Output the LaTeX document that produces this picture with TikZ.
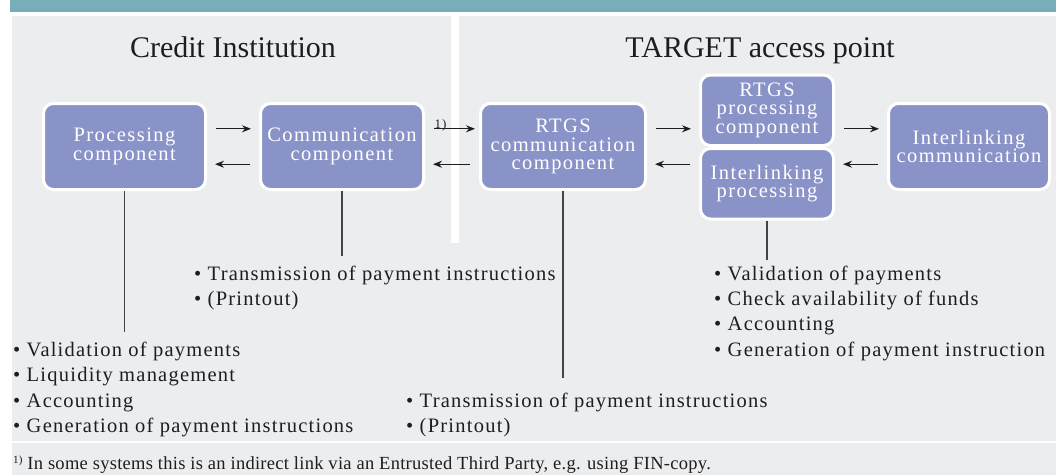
\documentclass[tikz,border=0pt]{standalone}
\usepackage{fontspec}
\setmainfont{Liberation Serif}
\newfontfamily\trackfont[LetterSpace=7]{Liberation Serif}
\newfontfamily\listfont[LetterSpace=6]{Liberation Serif}
\newfontfamily\notefont[LetterSpace=1.5]{Liberation Serif}
\usetikzlibrary{arrows.meta}
\definecolor{barteal}{HTML}{79AEB9}
\definecolor{panelgray}{HTML}{ECEDEF}
\definecolor{boxblue}{HTML}{8A93C8}
\definecolor{stemgray}{HTML}{444444}
\definecolor{inkblack}{HTML}{1E1E1E}

\begin{document}
\begin{tikzpicture}[x=1pt, y=-1pt, >={Stealth[length=9pt, width=7pt]},
    comp/.style={draw=white, line width=3pt, fill=boxblue, rounded corners=10pt,
        text=white, align=center, inner sep=0pt, minimum height=86pt,
        font=\trackfont\fontsize{20.5}{18.5}\selectfont},
    flow/.style={->, line width=1.2pt, inkblack, shorten <=9pt, shorten >=8pt},
    stem/.style={stemgray, line width=1.5pt},
    items/.style={anchor=north west, inner sep=0pt, align=left, text=inkblack,
        font=\listfont\fontsize{20.5}{25.3}\selectfont},
    heading/.style={anchor=base, inner sep=0pt, text=inkblack,
        font=\fontsize{30}{30}\selectfont}]

    \useasboundingbox (0,0) rectangle (1056,475);

    % Nền
    \fill[barteal] (10,0) rectangle (1056,12);
    \fill[panelgray] (12,16) rectangle (1056,441);
    \fill[white] (451,16) rectangle (459,243);
    \fill[panelgray] (12,443) rectangle (1056,475);

    % Tiêu đề
    \node[heading] (ci) at (233,57) {Credit Institution};
    \node[heading] (tap) at (760,57) {TARGET access point};

    % Các khối
    \node[comp, minimum width=162pt] (proc) at (124.5,146.5) {Processing\\component};
    \node[comp, minimum width=163pt] (comm) at (342,146.5) {Communication\\component};
    \node[comp, minimum width=165pt] (rtgscomm) at (563,146.5) {RTGS\\communication\\component};
    \node[comp, minimum width=133pt, minimum height=70.5pt] (rtgsproc) at (767,110.25)
        {RTGS\\processing\\component};
    \node[comp, minimum width=133pt, minimum height=70.5pt] (interproc) at (767,183.75)
        {Interlinking\\processing};
    \node[comp, minimum width=161pt] (intercomm) at (969,146.5) {Interlinking\\communication};

    % Mũi tên
    \draw[flow] ([yshift=17.7pt]proc.east) -- ([yshift=17.7pt]comm.west);
    \draw[flow] ([yshift=-17.7pt]comm.west) -- ([yshift=-17.7pt]proc.east);
    \draw[flow, shorten >=4pt] ([yshift=17.7pt]comm.east) -- ([yshift=17.7pt]rtgscomm.west)
        node[pos=0, anchor=base west, inner sep=0pt, xshift=9pt, text=inkblack,
        font=\trackfont\fontsize{13}{13}\selectfont] (fn) {1)};
    \draw[flow] ([yshift=-17.7pt]rtgscomm.west) -- ([yshift=-17.7pt]comm.east);

    \coordinate (aup) at ([yshift=17.7pt]rtgscomm.east);
    \coordinate (adn) at ([yshift=-17.7pt]rtgscomm.east);
    \coordinate (bup) at ([yshift=17.7pt]intercomm.west);
    \coordinate (bdn) at ([yshift=-17.7pt]intercomm.west);
    \draw[flow] (aup) -- (aup -| rtgsproc.west);
    \draw[flow] (adn -| interproc.west) -- (adn);
    \draw[flow] (bup -| rtgsproc.east) -- (bup);
    \draw[flow] (bdn) -- (bdn -| interproc.east);

    % Danh sách chức năng
    \node[items] (commlist) at (194,265.5)
        {• Transmission of payment instructions\\• (Printout)};
    \node[items] (proclist) at (13,342)
        {• Validation of payments\\• Liquidity management\\• Accounting\\• Generation of payment instructions};
    \node[items] (rtgslist) at (406,392.5)
        {• Transmission of payment instructions\\• (Printout)};
    \node[items] (interlist) at (714,265.5)
        {• Validation of payments\\• Check availability of funds\\• Accounting\\• Generation of payment instruction};

    % Đường nối
    \coordinate (procfoot) at (proc.south |- 0,331.5);
    \coordinate (commfoot) at (comm.south |- 0,256);
    \coordinate (rtgsfoot) at (rtgscomm.south |- 0,378);
    \coordinate (interfoot) at (interproc.south |- 0,260);
    \draw[stem] (proc.south) -- (procfoot);
    \draw[stem] (comm.south) -- (commfoot);
    \draw[stem] (rtgscomm.south) -- (rtgsfoot);
    \draw[stem] (interproc.south) -- (interfoot);

    % Chú thích
    \node[anchor=base west, inner sep=0pt, text=inkblack, font=\notefont\fontsize{18.5}{18.5}\selectfont]
        (note) at (13,469) {\raisebox{6pt}{\fontsize{11}{11}\selectfont 1)} In some systems this is an
        indirect link via an Entrusted Third Party, e.g. using FIN-copy.};

\end{tikzpicture}
\end{document}
